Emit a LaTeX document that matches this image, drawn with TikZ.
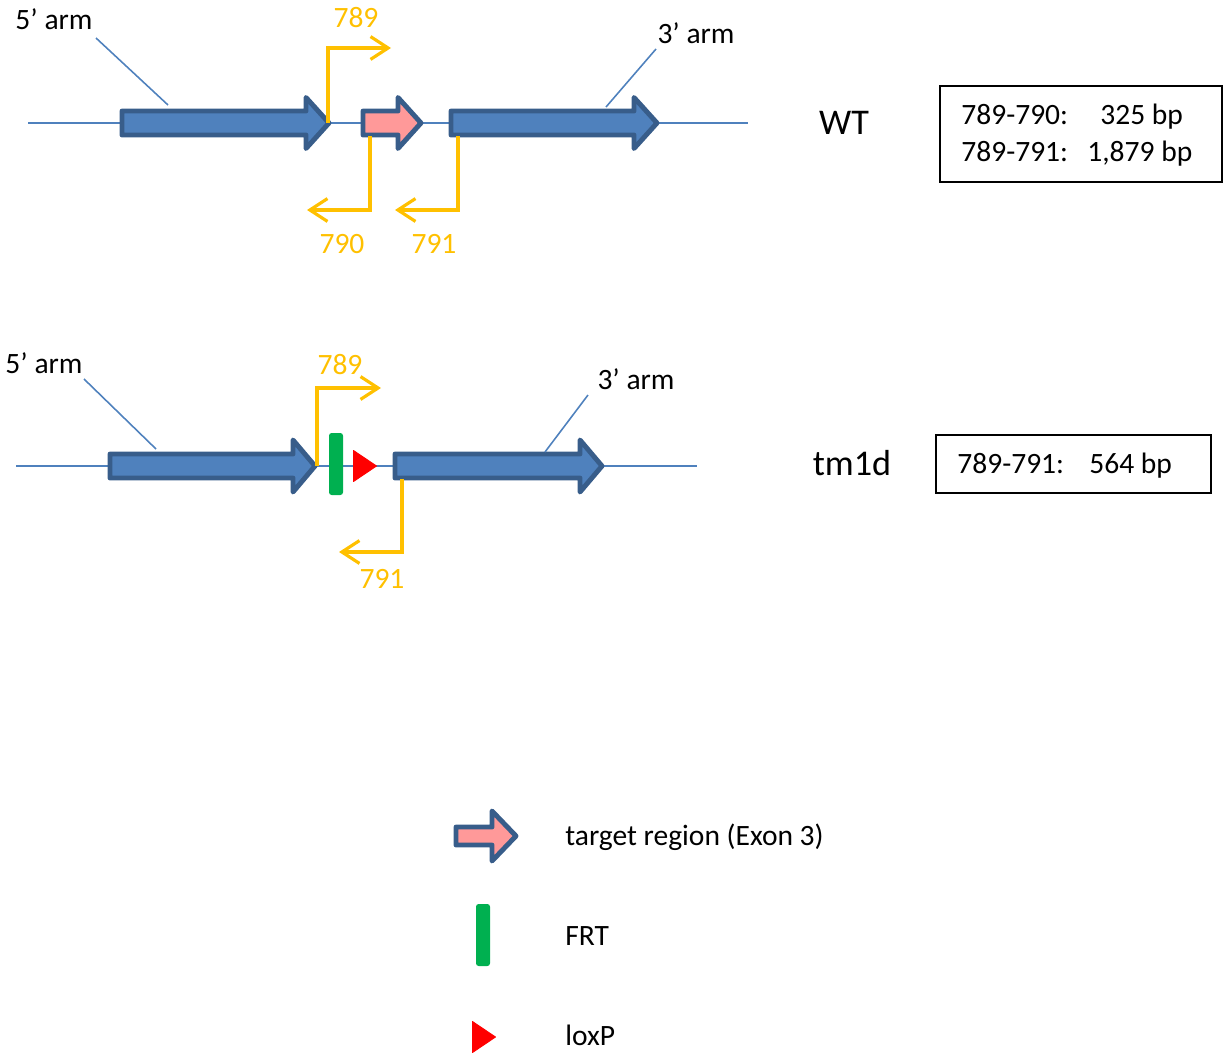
\documentclass[tikz,border=0pt]{standalone}
\usepackage{fontspec}
\setmainfont{Carlito}
\usetikzlibrary{arrows.meta}
\definecolor{exonfill}{HTML}{4F81BD}
\definecolor{exonline}{HTML}{385D8A}
\definecolor{targetfill}{HTML}{FF9999}
\definecolor{primer}{HTML}{FFC000}
\definecolor{frtgreen}{HTML}{00B050}
\tikzset{
  dna/.style={draw=exonfill, line width=0.9pt},
  leader/.style={draw=exonfill, line width=0.9pt},
  exon/.style={draw=exonline, line width=2.8pt, line join=round, fill=exonfill},
  target/.style={exon, fill=targetfill},
  primerline/.style={draw=primer, line width=1.8pt, line join=miter,
    -{Straight Barb[length=10pt,width=13pt,line width=1.8pt]}},
  txt/.style={font=\fontsize{16.8}{20}\selectfont, inner sep=0pt, anchor=base},
  ptxt/.style={txt, text=primer},
  big/.style={font=\fontsize{20.6}{24}\selectfont, inner sep=0pt, anchor=base},
  resbox/.style={draw=black, line width=1.1pt},
  frt/.style={fill=frtgreen, rounded corners=1.5pt},
  loxp/.style={fill=red, draw=red, line width=0.5pt, line join=round},
}
\begin{document}
\begin{tikzpicture}[x=0.02cm, y=-0.02cm]
\useasboundingbox (0,0) rectangle (1224,1055);

% ---------------- WT allele ----------------
\coordinate (wtL) at (28,123);
\coordinate (wtR) at (748,123);
\draw[dna] (wtL) -- (wtR);
% 5' arm exon
\draw[exon] (122,111) -- (306,111) -- (306,97.5) -- (329,123) -- (306,148.5) -- (306,135) -- (122,135) -- cycle;
\coordinate (wt5in) at (168,105);
% target exon
\draw[target] (363,111) -- (398,111) -- (398,97.5) -- (421,123) -- (398,148.5) -- (398,135) -- (363,135) -- cycle;
% 3' arm exon
\draw[exon] (451,111) -- (634,111) -- (634,97.5) -- (657,123) -- (634,148.5) -- (634,135) -- (451,135) -- cycle;
\coordinate (wt3in) at (606,107);

\node[txt] (wt5lab) at (54,29) {5’ arm};
\node[txt] (wt3lab) at (696,43) {3’ arm};
\draw[leader] (96,38) -- (wt5in);
\draw[leader] (656,49) -- (wt3in);

% primers
\coordinate (p789a) at (328,123);
\coordinate (p789b) at (391,48);
\draw[primerline] (p789a) |- (p789b);
\coordinate (p790a) at (370,136);
\coordinate (p790b) at (307,210);
\draw[primerline] (p790a) |- (p790b);
\coordinate (p791a) at (458,136);
\coordinate (p791b) at (395,210);
\draw[primerline] (p791a) |- (p791b);
\node[ptxt] (l789) at (356,27) {789};
\node[ptxt] (l790) at (342,253) {790};
\node[ptxt] (l791) at (434,253) {791};

\node[big] (wt) at (844,134) {WT};
\draw[resbox] (940,86) rectangle (1222,182);
\node[txt, anchor=base west] (r1a) at (961,124) {789-790:};
\node[txt, anchor=base west] (r1b) at (1100,124) {325 bp};
\node[txt, anchor=base west] (r2a) at (961,161) {789-791:};
\node[txt, anchor=base west] (r2b) at (1087,161) {1,879 bp};

% ---------------- tm1d allele ----------------
\coordinate (tmL) at (16,466);
\coordinate (tmR) at (697,466);
\draw[dna] (tmL) -- (tmR);
\draw[exon] (110,454) -- (293,454) -- (293,440) -- (315,466) -- (293,492) -- (293,478) -- (110,478) -- cycle;
\coordinate (tm5in) at (156,449);
\draw[exon] (395,454) -- (580,454) -- (580,440) -- (602,466) -- (580,492) -- (580,478) -- (395,478) -- cycle;
\coordinate (tm3in) at (545,452);

\fill[frt] (329,433) rectangle (343,495);
\draw[loxp] (353.5,450.5) -- (376.5,466) -- (353.5,481.5) -- cycle;

\node[txt] (tm5lab) at (44,373) {5’ arm};
\node[txt] (tm3lab) at (636,389) {3’ arm};
\draw[leader] (84,379) -- (tm5in);
\draw[leader] (588,395) -- (tm3in);

\coordinate (q789a) at (317,466);
\coordinate (q789b) at (381,388);
\draw[primerline] (q789a) |- (q789b);
\coordinate (q791a) at (402,479);
\coordinate (q791b) at (339,552);
\draw[primerline] (q791a) |- (q791b);
\node[ptxt] (m789) at (340,374) {789};
\node[ptxt] (m791) at (382,588) {791};

\node[big] (tm) at (852,475) {tm1d};
\draw[resbox] (936,435) rectangle (1211,493);
\node[txt, anchor=base west] (s1a) at (957,473) {789-791:};
\node[txt, anchor=base west] (s1b) at (1089,473) {564 bp};

% ---------------- legend ----------------
\draw[target] (456,827) -- (492,827) -- (492,811) -- (516,836) -- (492,861) -- (492,845) -- (456,845) -- cycle;
\node[txt, anchor=base west] (leg1) at (565,845) {target region (Exon 3)};
\fill[frt] (476,904) rectangle (490,966);
\node[txt, anchor=base west] (leg2) at (565,945) {FRT};
\draw[loxp] (472.5,1021.5) -- (495.5,1037) -- (472.5,1052.5) -- cycle;
\node[txt, anchor=base west] (leg3) at (565,1045) {loxP};
\end{tikzpicture}
\end{document}
